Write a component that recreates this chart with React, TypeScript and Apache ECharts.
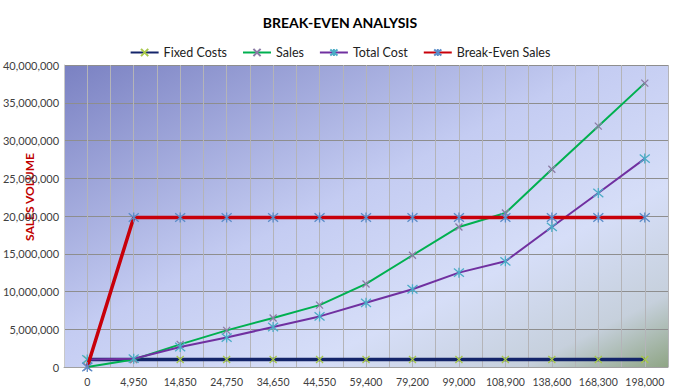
import React, { useEffect, useRef } from "react";
import * as echarts from "echarts";

const categories = ["0", "4,950", "14,850", "24,750", "34,650", "44,550", "59,400", "79,200", "99,000", "108,900", "138,600", "168,300", "198,000"];
const fixedCosts = [1000000, 1000000, 1000000, 1000000, 1000000, 1000000, 1000000, 1000000, 1000000, 1000000, 1000000, 1000000, 1000000];
const sales = [0, 1000000, 3000000, 4850000, 6500000, 8200000, 11000000, 14800000, 18550000, 20400000, 26200000, 31900000, 37600000];
const totalCost = [1000000, 1100000, 2650000, 3900000, 5300000, 6700000, 8500000, 10300000, 12500000, 14000000, 18550000, 23050000, 27600000];
const breakEven = [0, 19800000, 19800000, 19800000, 19800000, 19800000, 19800000, 19800000, 19800000, 19800000, 19800000, 19800000, 19800000];
const halfBands = Array.from({ length: categories.length * 2 }, () => "");

const FONT = "Lato";
const XSYM = "path://M0,0L10,10M10,0L0,10";
const STAR = "path://M0,0L10,10M10,0L0,10M5,-1L5,11";

export default function App() {
  const ref = useRef<HTMLDivElement>(null);
  useEffect(() => {
    document.body.style.margin = "0";
    const chart = echarts.init(ref.current!, null, { renderer: "svg" });
    const mk = (name: string, data: number[], lineColor: string, width: number, symbol: string, symColor: string, symSize: number, z: number) => ({
      name,
      type: "line",
      data,
      xAxisIndex: 0,
      symbol,
      symbolSize: symSize,
      showSymbol: true,
      z,
      lineStyle: { color: lineColor, width },
      itemStyle: { color: "rgba(0,0,0,0)", borderColor: symColor, borderWidth: 1.3 },
      emphasis: { disabled: true },
    });
    chart.setOption({
      animation: false,
      textStyle: { fontFamily: FONT },
      title: {
        text: "BREAK-EVEN ANALYSIS",
        left: "center",
        top: 10,
        textStyle: { fontFamily: FONT, fontSize: 14, fontWeight: "bold", color: "#000" },
      },
      legend: {
        top: 41,
        left: "center",
        itemWidth: 28,
        itemHeight: 9,
        itemGap: 15,
        textStyle: { fontFamily: FONT, fontSize: 12.5, color: "#222" },
        data: ["Fixed Costs", "Sales", "Total Cost", "Break-Even Sales"],
      },
      grid: {
        left: 62,
        right: 12,
        top: 65,
        bottom: 22,
        show: true,
        borderWidth: 0,
        backgroundColor: new echarts.graphic.LinearGradient(0, 0, 1, 1, [
          { offset: 0, color: "#7a81c2" },
          { offset: 0.45, color: "#c4ccf2" },
          { offset: 0.7, color: "#d6def8" },
          { offset: 0.88, color: "#c6d0dc" },
          { offset: 1, color: "#8fa585" },
        ]),
      },
      xAxis: [
        {
          type: "category",
          data: categories,
          boundaryGap: true,
          axisLine: { show: true, lineStyle: { color: "#a0a0a0" } },
          axisTick: { show: false },
          splitLine: { show: false },
          axisLabel: { interval: 0, fontSize: 10.5, color: "#404040", margin: 9, fontFamily: FONT },
        },
        {
          type: "category",
          data: halfBands,
          boundaryGap: true,
          position: "bottom",
          axisLine: { show: false },
          axisTick: { show: false },
          axisLabel: { show: false },
          splitLine: { show: true, interval: 0, lineStyle: { color: "#b4b4b8", width: 1 } },
        },
      ],
      yAxis: {
        type: "value",
        min: 0,
        max: 40000000,
        interval: 5000000,
        axisLine: { show: true, lineStyle: { color: "#c8c8c8" } },
        axisTick: { show: false },
        splitLine: { show: true, lineStyle: { color: "#8e8e8e", width: 1 } },
        axisLabel: {
          fontSize: 11,
          color: "#404040",
          margin: 5,
          fontFamily: FONT,
          formatter: (v: number) => v.toLocaleString("en-US"),
        },
      },
      graphic: [
        {
          type: "text",
          x: 29,
          y: 197,
          rotation: Math.PI / 2,
          style: {
            text: "SALES VOLUME",
            fill: "#c00000",
            font: `bold 12px ${FONT}`,
            align: "center",
            verticalAlign: "middle",
          },
        },
      ],
      series: [
        mk("Fixed Costs", fixedCosts, "#14256a", 3.5, XSYM, "#a8c84a", 7, 2),
        mk("Sales", sales, "#00b050", 2, XSYM, "#8c7ca6", 7, 3),
        mk("Total Cost", totalCost, "#7030a0", 2, STAR, "#4bacc6", 10, 4),
        mk("Break-Even Sales", breakEven, "#c8000a", 3.5, STAR, "#5b8cc8", 10, 5),
      ],
    });
    return () => chart.dispose();
  }, []);
  return <div ref={ref} style={{ width: 680, height: 389 }} />;
}
